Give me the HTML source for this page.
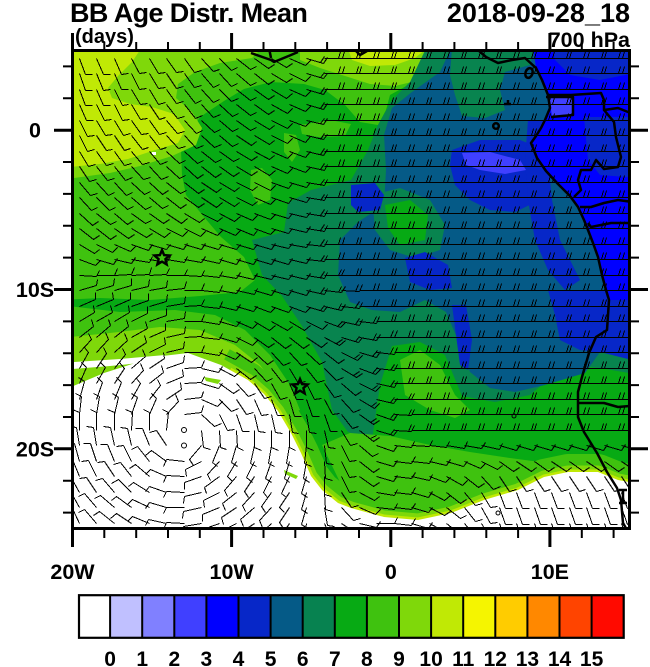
<!DOCTYPE html>
<html><head><meta charset="utf-8">
<style>
html,body{margin:0;padding:0;background:#fff;}
svg{display:block;}
text{font-family:"Liberation Sans",Arial,sans-serif;font-weight:bold;fill:#000;}
</style></head><body>
<svg width="650" height="667" viewBox="0 0 650 667" xmlns="http://www.w3.org/2000/svg">
<defs><clipPath id="pc"><rect x="72.5" y="50.5" width="557" height="478"/></clipPath></defs>
<g clip-path="url(#pc)">
 <rect x="60" y="40" width="590" height="500" fill="#07aa14"/>
 <!-- NW light greens -->
 <polygon fill="#3fc20f" points="60,40 470,40 470,50 462,60 440,72 410,84 390,95 386,110 378,125 360,122 345,105 325,90 304,84 271,82 244,89 224,101 200,117 186,140 181,150 182,175 186,195 204,217 221,237 244,257 255,280 240,292 200,296 150,300 100,298 60,300"/>
 <polygon fill="#3fc20f" points="251,170 262,168 272,180 270,200 258,205 250,190"/>
 <polygon fill="#3fc20f" points="284,133 296,135 300,150 292,162 284,152"/>
 <polygon fill="#3fc20f" points="300,125 330,120 351,124 345,136 318,137 302,134"/>
 <polygon fill="#7fd80a" points="60,40 260,40 260,50 252,58 220,63 195,72 178,84 176,98 192,112 202,128 196,145 172,156 140,166 110,173 60,180"/>
 <polygon fill="#7fd80a" points="300,40 470,40 470,50 458,62 440,72 420,80 395,86 370,84 345,76 320,68 300,60"/>
 <polygon fill="#c0e905" points="345,40 425,40 425,50 415,58 395,65 370,66 352,60"/>
 <polygon fill="#c0e905" points="60,40 140,40 140,50 132,62 118,76 108,88 112,98 130,104 152,107 174,114 185,130 178,143 152,151 128,159 100,164 60,168"/>
 <!-- teal green transition -->
 <polygon fill="#08844f" points="430,40 640,40 640,375 600,368 565,365 530,395 495,402 462,396 445,355 420,342 392,346 380,385 372,440 348,432 332,410 322,362 302,326 282,296 262,275 252,240 284,232 288,203 311,190 351,180 368,150 378,125 392,100 410,82"/>
 <!-- dark teal -->
 <polygon fill="#055a87" points="455,40 640,40 640,360 600,352 585,373 545,385 515,392 490,388 470,372 458,340 446,312 425,300 400,312 372,310 350,302 338,275 340,240 358,222 384,205 386,170 384,135 392,108 412,92 440,72"/>
 <polygon fill="#08844f" points="452,48 535,48 530,65 505,72 500,90 505,110 485,118 462,116 455,95 450,75"/>
 <polygon fill="#08844f" points="372,195 400,188 430,200 445,225 440,250 415,258 390,250 375,230"/>
 <polygon fill="#07aa14" points="385,205 410,200 428,215 425,240 400,245 388,228"/>
 <!-- blues in ocean -->
 <polygon fill="#0727c8" points="452,150 480,140 520,140 545,150 550,175 540,200 515,212 490,210 470,200 455,185 450,165"/>
 <polygon fill="#0727c8" points="528,120 545,120 548,160 552,200 560,240 570,260 580,280 565,290 548,270 535,240 528,200 525,160"/>
 <polygon fill="#0727c8" points="405,258 425,252 448,265 452,288 430,290 410,282"/>
 <polygon fill="#0727c8" points="351,185 375,183 384,195 380,210 358,212 351,205"/>
 <polygon fill="#0727c8" points="452,305 466,305 472,340 468,370 460,365 456,335"/>
 <polygon fill="#0727c8" points="548,290 640,290 640,362 600,352 580,350 560,340 555,315"/>
 <polygon fill="#4040ff" points="462,153 490,152 520,160 526,170 505,174 480,170 466,165"/>
 <!-- land -->
 <polygon fill="#0000ff" points="532,40 536,68 542,80 548,95 550,108 545,120 541,128 536,136 531,143 537,158 546,171 558,184 570,196 578,207 584,220 588,230 593,243 598,257 602,275 606,290 609,300 607,330 596,337 589,353 640,353 640,40"/>
 <polygon fill="#0727c8" points="584,117 640,117 640,178 600,175 588,160"/>
 <polygon fill="#0727c8" points="551,40 640,40 640,72 600,80 570,75 555,60"/>
 <polygon fill="#0727c8" points="609,300 640,300 640,353 589,353 596,337 607,330"/>
 <polygon fill="#4040ff" points="549,98 572,98 572,114 552,116"/>
 <!-- south greens -->
 <polygon fill="#3fc20f" points="400,360 420,350 440,365 455,395 470,410 455,418 430,410 405,395"/>
 <polygon fill="#3fc20f" points="322,445 350,433 390,436 430,445 470,452 510,458 540,462 560,463 520,480 451,505 351,505"/>
 <polygon fill="#3fc20f" points="60,305 120,312 175,310 215,315 245,330 270,355 290,385 300,410 260,420 60,420"/>
 <polygon fill="#7fd80a" points="60,338 110,333 160,327 200,330 235,345 260,365 275,385 260,400 60,400"/>
 <path fill="none" stroke="#3fc20f" stroke-width="36" stroke-linejoin="round" d="M221,365 L248,380 264,394 278,411 291,433 301,453 311,476 322,490 338,503 351,508 384,517 418,520 451,513 484,500 518,490 544,477 568,472 598,472 618,480 640,484"/>
 <path fill="none" stroke="#7fd80a" stroke-width="13" stroke-linejoin="round" d="M200,358 L221,365 248,380 264,394 278,411 291,433 301,453 311,476 322,490 338,503 351,508 384,517 418,520 451,513 484,500 518,490 544,477 568,472 598,472 618,480 640,484"/>
 <path fill="none" stroke="#c0e905" stroke-width="5" stroke-linejoin="round" d="M230,370 L248,380 264,394 278,411 291,433 301,453 311,476 322,490 338,503 351,508 384,517 418,520 451,513 484,500 518,490 544,477 568,472 598,472 618,480 640,484"/>
 <polygon fill="#ffffff" points="60,363 120,359 165,355 160,361 110,366 60,370"/>
 <polygon fill="#ffffff" points="60,388 71,387 104,373 154,357 188,353 221,365 248,380 264,394 278,411 291,433 301,453 311,476 322,490 338,503 351,508 384,517 418,520 451,513 484,500 518,490 544,477 568,472 598,472 618,480 640,484 640,540 60,540"/>
 <polygon fill="#7fd80a" points="204,377 221,380 218,384 206,381"/>
 <polygon fill="#7fd80a" points="284,470 298,476 296,479 285,474"/>
 <rect x="152" y="152" width="4" height="3" fill="#fff"/>
 <!-- wind barbs -->
 <path id="barbs" fill="none" stroke="#000" stroke-width="1" shape-rendering="crispEdges" d=""/>
 <g id="calm" fill="none" stroke="#000" stroke-width="1"></g>
 <circle cx="514" cy="416" r="2" fill="none" stroke="#000" stroke-width="1"/>
 <circle cx="498" cy="513" r="2" fill="none" stroke="#000" stroke-width="1"/>
 <!-- coast & borders -->
 <g fill="none" stroke="#000" stroke-width="2.5" stroke-linejoin="round">
  <path d="M478,50 L486,57 498,63 512,60 525,58 536,68 542,80 548,95 550,108 545,120 541,128 536,136 531,143 537,158 546,171 558,184 570,196 578,207 584,220 588,230 593,243 598,257 602,275 606,290 609,300 607,330 596,337 589,353 582,377 578,392 578,417 584,432 597,453 607,472 617,488 621,500 623,523 627,530"/>
  <path d="M548,95 L571,95 601,93 604,100 604,110 618,108 628,112 640,113"/>
  <path d="M604,110 L614,122 616,137 621,157 618,167 604,169 596,160 591,170 581,170 578,180 581,190 574,197"/>
  <path d="M580,207 L591,207 604,203 618,200 640,203"/>
  <path d="M588,223 L591,227 611,223 640,223"/>
  <path d="M546,97 L573,97 573,115 551,117"/>
  <path d="M578,403 L604,403 618,407 640,405"/>
  <path d="M619,490 L627,490 M623,490 L623,503 M619,503 L627,503"/>
  <path d="M251,53 L271,60 274,62 291,55 298,52 M269,48 L271,58"/>
  <path d="M354,49 L360,55 367,51"/>
  <ellipse cx="529" cy="73" rx="3.5" ry="5" transform="rotate(20 529 73)"/>
  <circle cx="496" cy="126" r="2.8"/>
  <path d="M504,104 L511,104 M508,100 L508,104"/>
 </g>
 <!-- stars -->
 <g fill="none" stroke="#000" stroke-width="2.4" stroke-linejoin="miter">
  <polygon points="162,250 164.1,255.1 169.6,255.5 165.4,259.1 166.7,264.5 162,261.6 157.3,264.5 158.6,259.1 154.4,255.5 159.9,255.1"/>
  <polygon points="300,379 302.1,384.1 307.6,384.5 303.4,388.1 304.7,393.5 300,390.6 295.3,393.5 296.6,388.1 292.4,384.5 297.9,384.1"/>
 </g>
</g>
<!-- frame -->
<rect x="72.5" y="50.5" width="557" height="478" fill="none" stroke="#000" stroke-width="3"/>
<!-- ticks -->
<g stroke="#000" stroke-width="3">
 <path d="M72.5,50 V33 M231.6,50 V33 M390.8,50 V33 M549.9,50 V33"/>
 <path d="M72.5,529 V547 M231.6,529 V547 M390.8,529 V547 M549.9,529 V547"/>
 <path d="M72,130.2 H54 M72,289.5 H54 M72,448.8 H54"/>
 <path d="M630,130.2 H648 M630,289.5 H648 M630,448.8 H648"/>
</g>
<g stroke="#000" stroke-width="2">
 <path d="M104.3,50 V42 M136.2,50 V42 M168,50 V42 M199.8,50 V42 M263.5,50 V42 M295.3,50 V42 M327.1,50 V42 M359,50 V42 M422.6,50 V42 M454.4,50 V42 M486.3,50 V42 M518.1,50 V42 M581.8,50 V42 M613.6,50 V42"/>
 <path d="M104.3,529 V538 M136.2,529 V538 M168,529 V538 M199.8,529 V538 M263.5,529 V538 M295.3,529 V538 M327.1,529 V538 M359,529 V538 M422.6,529 V538 M454.4,529 V538 M486.3,529 V538 M518.1,529 V538 M581.8,529 V538 M613.6,529 V538"/>
 <path d="M72,66.4 H63 M72,98.3 H63 M72,162 H63 M72,193.9 H63 M72,225.8 H63 M72,257.6 H63 M72,321.4 H63 M72,353.2 H63 M72,385.1 H63 M72,417 H63 M72,480.7 H63 M72,512.6 H63"/>
 <path d="M630,66.4 H639 M630,98.3 H639 M630,162 H639 M630,193.9 H639 M630,225.8 H639 M630,257.6 H639 M630,321.4 H639 M630,353.2 H639 M630,385.1 H639 M630,417 H639 M630,480.7 H639 M630,512.6 H639"/>
</g>
<!-- titles -->
<text x="70" y="22" font-size="27" letter-spacing="-0.6">BB Age Distr. Mean</text>
<text x="630" y="22" font-size="27" text-anchor="end">2018-09-28_18</text>
<text x="75" y="43" font-size="20">(days)</text>
<text x="630" y="47" font-size="21.5" text-anchor="end">700 hPa</text>
<!-- axis labels -->
<g font-size="21.5" text-anchor="middle">
 <text x="35" y="137.7">0</text>
 <text x="35" y="297.2">10S</text>
 <text x="35" y="456.5">20S</text>
 <text x="72.5" y="579">20W</text>
 <text x="231.6" y="579">10W</text>
 <text x="390.8" y="579">0</text>
 <text x="549.9" y="579">10E</text>
</g>
<!-- colorbar -->
<g>
 <rect x="78" y="595" width="32.1" height="43" fill="#ffffff"/>
 <rect x="110.1" y="595" width="32.1" height="43" fill="#c0c0ff"/>
 <rect x="142.2" y="595" width="32.1" height="43" fill="#8080ff"/>
 <rect x="174.3" y="595" width="32.1" height="43" fill="#4040ff"/>
 <rect x="206.4" y="595" width="32.1" height="43" fill="#0000ff"/>
 <rect x="238.5" y="595" width="32.1" height="43" fill="#0727c8"/>
 <rect x="270.6" y="595" width="32.1" height="43" fill="#055a87"/>
 <rect x="302.7" y="595" width="32.1" height="43" fill="#078250"/>
 <rect x="334.8" y="595" width="32.1" height="43" fill="#07aa14"/>
 <rect x="366.9" y="595" width="32.1" height="43" fill="#3fc20f"/>
 <rect x="399" y="595" width="32.1" height="43" fill="#7fd80a"/>
 <rect x="431.1" y="595" width="32.1" height="43" fill="#c0e905"/>
 <rect x="463.2" y="595" width="32.1" height="43" fill="#f5f500"/>
 <rect x="495.3" y="595" width="32.1" height="43" fill="#ffcc00"/>
 <rect x="527.4" y="595" width="32.1" height="43" fill="#ff8800"/>
 <rect x="559.5" y="595" width="32.1" height="43" fill="#ff4400"/>
 <rect x="591.6" y="595" width="32.1" height="43" fill="#ff0a00"/>
 <path stroke="#000" stroke-width="2" d="M110.1,595 V638 M142.2,595 V638 M174.3,595 V638 M206.4,595 V638 M238.5,595 V638 M270.6,595 V638 M302.7,595 V638 M334.8,595 V638 M366.9,595 V638 M399,595 V638 M431.1,595 V638 M463.2,595 V638 M495.3,595 V638 M527.4,595 V638 M559.5,595 V638 M591.6,595 V638"/>
 <rect x="79" y="595.2" width="544.7" height="42.6" fill="none" stroke="#000" stroke-width="2.2"/>
</g>
<g font-size="21" text-anchor="middle">
 <text x="110.1" y="666">0</text><text x="142.2" y="666">1</text><text x="174.3" y="666">2</text><text x="206.4" y="666">3</text>
 <text x="238.5" y="666">4</text><text x="270.6" y="666">5</text><text x="302.7" y="666">6</text><text x="334.8" y="666">7</text>
 <text x="366.9" y="666">8</text><text x="399" y="666">9</text><text x="431.1" y="666">10</text><text x="463.2" y="666">11</text>
 <text x="495.3" y="666">12</text><text x="527.4" y="666">13</text><text x="559.5" y="666">14</text><text x="591.6" y="666">15</text>
</g>
</svg>
<script>
(function(){
function cl(v,a,b){return v<a?a:v>b?b:v;}
function q(v){return (Math.round(v-0.5)+0.5).toFixed(1);}
var s="",c="";
for(var j=0;j<31;j++){
 var y=58+j*15.5;
 for(var i=0;i<32;i++){
  var x=79+i*17.5;
  var rx=x-186, ry=y-432, r=Math.sqrt(rx*rx+ry*ry)||1;
  var ax=-ry/r, ay=rx/r;
  var wa=cl((215-r)/95,0,1);
  var t=Math.sqrt(cl((320-x)/250,0,1)*cl((290-y)/210,0,1));
  var an=t*1.25, bx=Math.cos(an), by=Math.sin(an);
  var se=cl((y-430)/60,0,1)*cl((x-380)/120,0,1);
  bx=bx*(1-se)+0.35*se; by=by*(1-se)+0.94*se;
  var dx=wa*ax+(1-wa)*bx, dy=wa*ay+(1-wa)*by, n=Math.sqrt(dx*dx+dy*dy)||1;
  dx/=n; dy/=n;
  if(r<14){c+='<circle cx="'+x+'" cy="'+y+'" r="2.5"/>';continue;}
  var L=18, ex=x+L*dx, ey=y+L*dy;
  s+="M"+q(x)+","+q(y)+"L"+q(ex)+","+q(ey);
  var fx=0.342*dx+0.94*dy, fy=-0.94*dx+0.342*dy;
  var nf=(x>300&&y<445&&wa<0.5)?2:1;
  for(var k=0;k<nf;k++){
   var px=ex-k*3.5*dx, py=ey-k*3.5*dy;
   s+="M"+q(px)+","+q(py)+"L"+q(px+7*fx)+","+q(py+7*fy);
  }
 }
}
document.getElementById("barbs").setAttribute("d",s);
document.getElementById("calm").innerHTML=c;
})();
</script>
</body></html>
